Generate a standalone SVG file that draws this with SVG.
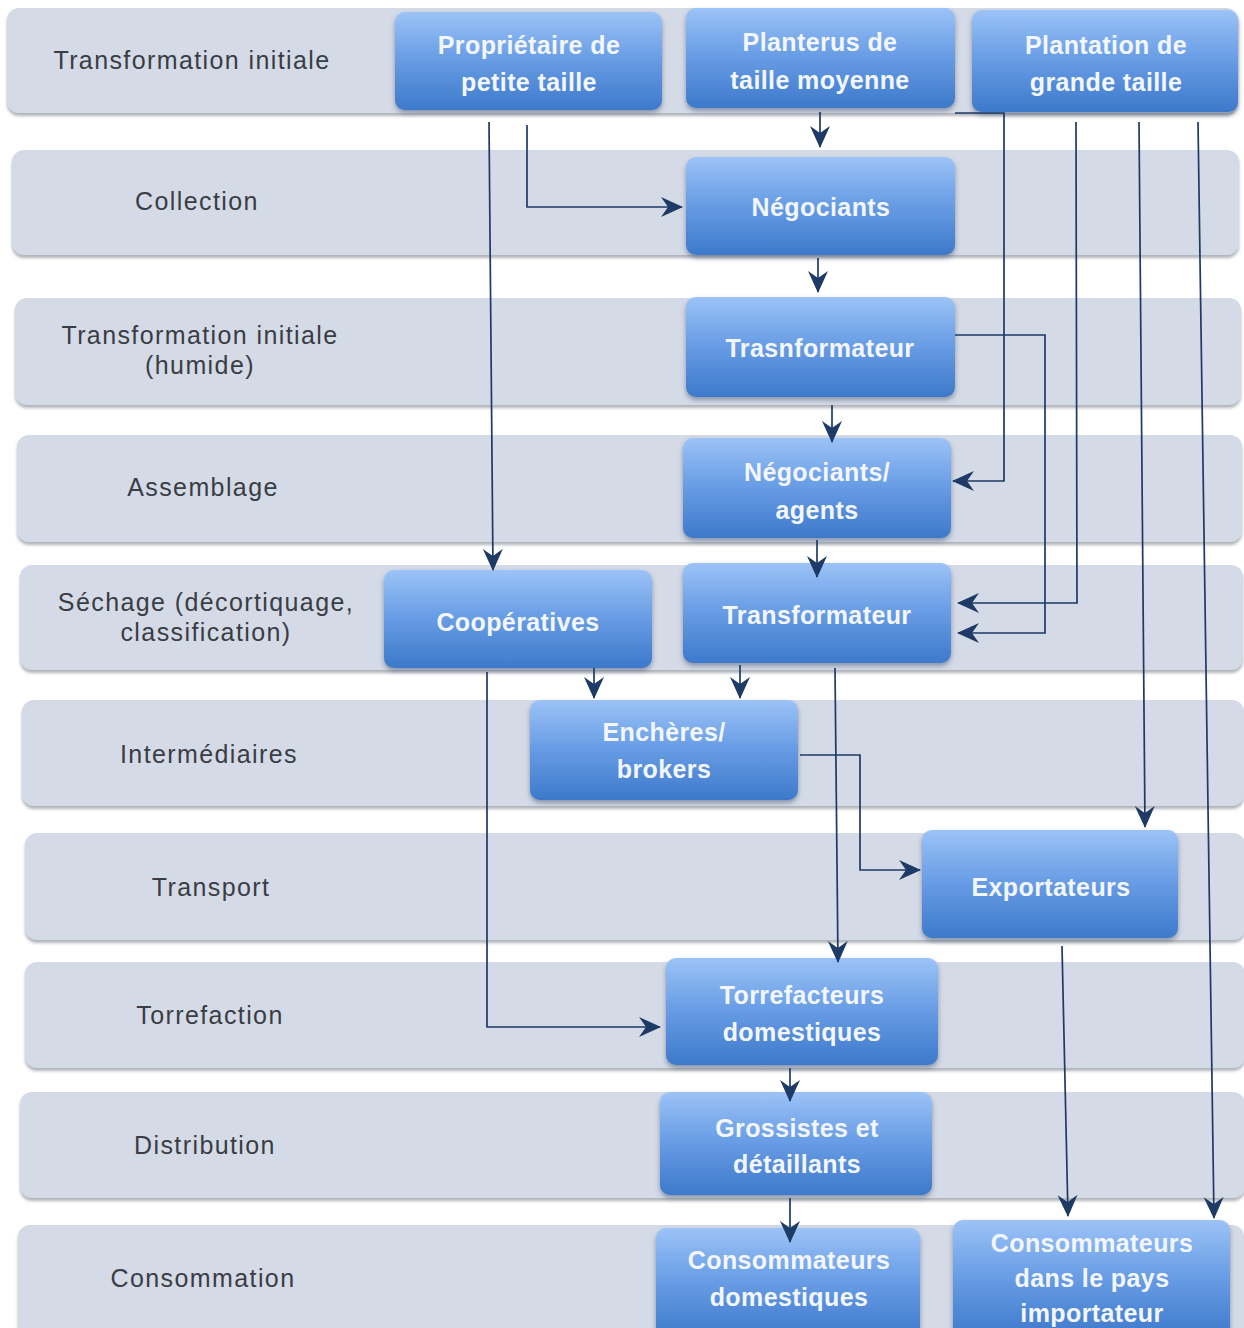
<svg xmlns="http://www.w3.org/2000/svg" width="1244" height="1328" viewBox="0 0 1244 1328">
<style>
.band{fill:#d4dae6;filter:url(#bs)}
.node{fill:url(#ng);filter:url(#ns)}
.lane{font-family:"Liberation Sans",Arial,sans-serif;font-size:25px;letter-spacing:1.4px;fill:#3a3d44;text-anchor:middle}
.nt{font-family:"Liberation Sans",Arial,sans-serif;font-size:25px;font-weight:bold;letter-spacing:0.4px;fill:#f3f7fd;text-anchor:middle}
.ca{fill:none;stroke:#1e3a66;stroke-width:1.7;marker-end:url(#ah)}
</style>
<defs>
<linearGradient id="ng" x1="0" y1="0" x2="0" y2="1">
<stop offset="0" stop-color="#9cc3f7"/>
<stop offset="0.45" stop-color="#6b9fe6"/>
<stop offset="1" stop-color="#3d79cb"/>
</linearGradient>
<filter id="bs" x="-5%" y="-10%" width="110%" height="130%">
<feDropShadow dx="0" dy="3" stdDeviation="1.5" flood-color="#7d818a" flood-opacity="0.6"/>
</filter>
<filter id="ns" x="-10%" y="-10%" width="120%" height="130%">
<feDropShadow dx="0" dy="3" stdDeviation="2.5" flood-color="#4a5a78" flood-opacity="0.55"/>
</filter>
<marker id="ah" viewBox="0 0 22 22" refX="21" refY="11" markerWidth="22" markerHeight="22" markerUnits="userSpaceOnUse" orient="auto">
<path d="M0,1 L22,11 L0,21 L7,11 z" fill="#1e3a66"/>
</marker>
</defs>
<rect width="1244" height="1328" fill="#ffffff"/>
<g id="lanes">
<g id="lane1"><rect class="band" x="7" y="8" width="1231" height="105" rx="12"/><text class="lane" x="192" y="69">Transformation initiale</text></g>
<g id="lane2"><rect class="band" x="12" y="150" width="1227" height="105" rx="12"/><text class="lane" x="197" y="210">Collection</text></g>
<g id="lane3"><rect class="band" x="15" y="298" width="1226" height="107" rx="12"/><text class="lane" x="200" y="344">Transformation initiale</text><text class="lane" x="200" y="374">(humide)</text></g>
<g id="lane4"><rect class="band" x="17" y="435" width="1225" height="107" rx="12"/><text class="lane" x="203" y="496">Assemblage</text></g>
<g id="lane5"><rect class="band" x="20" y="565" width="1223" height="105" rx="12"/><text class="lane" x="206" y="611">Séchage (décortiquage,</text><text class="lane" x="206" y="641">classification)</text></g>
<g id="lane6"><rect class="band" x="22" y="700" width="1222" height="106" rx="12"/><text class="lane" x="209" y="763">Intermédiaires</text></g>
<g id="lane7"><rect class="band" x="25" y="833" width="1220" height="107" rx="12"/><text class="lane" x="211" y="896">Transport</text></g>
<g id="lane8"><rect class="band" x="25" y="962" width="1220" height="106" rx="12"/><text class="lane" x="210" y="1024">Torrefaction</text></g>
<g id="lane9"><rect class="band" x="20" y="1092" width="1225" height="106" rx="12"/><text class="lane" x="205" y="1154">Distribution</text></g>
<g id="lane10"><rect class="band" x="18" y="1225" width="1226" height="115" rx="12"/><text class="lane" x="203" y="1287">Consommation</text></g>
</g>
<g id="n1"><rect class="node" x="395" y="12" width="267" height="98" rx="10"/><text class="nt" x="529" y="54">Propriétaire de</text><text class="nt" x="529" y="91">petite taille</text></g>
<g id="n2"><rect class="node" x="686" y="8" width="269" height="100" rx="10"/><text class="nt" x="820" y="51">Planterus de</text><text class="nt" x="820" y="89">taille moyenne</text></g>
<g id="n3"><rect class="node" x="972" y="10" width="266" height="102" rx="10"/><text class="nt" x="1106" y="54">Plantation de</text><text class="nt" x="1106" y="91">grande taille</text></g>
<g id="n4"><rect class="node" x="686" y="157" width="269" height="98" rx="10"/><text class="nt" x="821" y="216">Négociants</text></g>
<g id="n5"><rect class="node" x="686" y="297" width="269" height="100" rx="10"/><text class="nt" x="820" y="357">Trasnformateur</text></g>
<g id="n6"><rect class="node" x="683" y="438" width="268" height="100" rx="10"/><text class="nt" x="817" y="481">Négociants/</text><text class="nt" x="817" y="519">agents</text></g>
<g id="n7"><rect class="node" x="384" y="570" width="268" height="98" rx="10"/><text class="nt" x="518" y="631">Coopératives</text></g>
<g id="n8"><rect class="node" x="683" y="563" width="268" height="100" rx="10"/><text class="nt" x="817" y="624">Transformateur</text></g>
<g id="n9"><rect class="node" x="530" y="700" width="268" height="100" rx="10"/><text class="nt" x="664" y="741">Enchères/</text><text class="nt" x="664" y="778">brokers</text></g>
<g id="n10"><rect class="node" x="922" y="830" width="256" height="108" rx="10"/><text class="nt" x="1051" y="896">Exportateurs</text></g>
<g id="n11"><rect class="node" x="666" y="958" width="272" height="107" rx="10"/><text class="nt" x="802" y="1004">Torrefacteurs</text><text class="nt" x="802" y="1041">domestiques</text></g>
<g id="n12"><rect class="node" x="660" y="1092" width="272" height="103" rx="10"/><text class="nt" x="797" y="1137">Grossistes et</text><text class="nt" x="797" y="1173">détaillants</text></g>
<g id="n13"><rect class="node" x="656" y="1228" width="264" height="110" rx="10"/><text class="nt" x="789" y="1269">Consommateurs</text><text class="nt" x="789" y="1306">domestiques</text></g>
<g id="n14"><rect class="node" x="953" y="1220" width="277" height="118" rx="10"/><text class="nt" x="1092" y="1252">Consommateurs</text><text class="nt" x="1092" y="1287">dans le pays</text><text class="nt" x="1092" y="1322">importateur</text></g>
<g id="connectors">
<path class="ca" d="M489,122 L493,570"/>
<path class="ca" d="M527,125 L527,207 L682,207"/>
<path class="ca" d="M820,112 L820,147"/>
<path class="ca" d="M818,258 L818,292"/>
<path class="ca" d="M832,405 L832,442"/>
<path class="ca" d="M817,540 L817,577"/>
<path class="ca" d="M955,113 L1004,113 L1004,481 L953,481"/>
<path class="ca" d="M1076,122 L1077,603 L958,603"/>
<path class="ca" d="M955,335 L1045,335 L1045,633 L958,633"/>
<path class="ca" d="M1139,122 L1145,827"/>
<path class="ca" d="M1198,122 L1214,1218"/>
<path class="ca" d="M594,668 L594,698"/>
<path class="ca" d="M740,665 L740,698"/>
<path class="ca" d="M487,672 L487,1027 L660,1027"/>
<path class="ca" d="M835,668 L838,962"/>
<path class="ca" d="M800,755 L860,755 L860,870 L920,870"/>
<path class="ca" d="M1062,946 L1068,1216"/>
<path class="ca" d="M790,1068 L790,1101"/>
<path class="ca" d="M790,1198 L790,1242"/>
</g>
</svg>
